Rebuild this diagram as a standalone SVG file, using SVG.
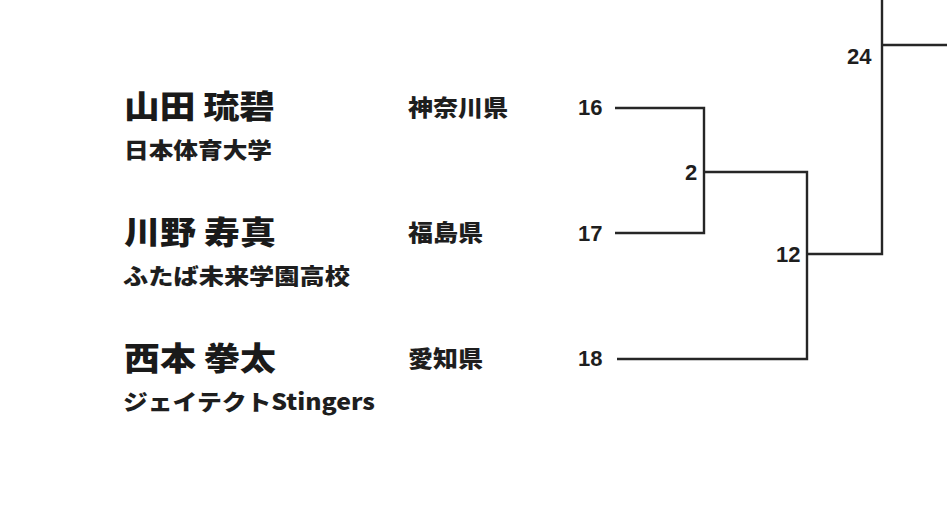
<svg xmlns="http://www.w3.org/2000/svg" width="947" height="513" viewBox="0 0 947 513">
<style>
.name{font-family:"Noto Sans CJK JP","Noto Sans",sans-serif;font-weight:900;font-size:32px;fill:#1a1a1a}
.team{font-family:"Noto Sans CJK JP","Noto Sans",sans-serif;font-weight:900;font-size:22px;fill:#1e1e1e}
.pref{font-family:"Noto Sans CJK JP","Noto Sans",sans-serif;font-weight:900;font-size:23px;fill:#1e1e1e}
.num{font-family:"Liberation Sans",Arial,sans-serif;font-weight:700;font-size:22px;fill:#1e1e1e}
.ln{fill:none;stroke:#262626;stroke-width:2.4}
</style>
<rect width="947" height="513" fill="#ffffff"/>
<g id="p16">
<text class="name" x="124" y="118" textLength="151" lengthAdjust="spacingAndGlyphs">山田 琉碧</text>
<text class="team" x="124" y="158" textLength="148" lengthAdjust="spacingAndGlyphs">日本体育大学</text>
<text class="pref" x="408" y="116" textLength="100" lengthAdjust="spacingAndGlyphs">神奈川県</text>
<text class="num" x="578" y="115">16</text>
</g>
<g id="p17">
<text class="name" x="124" y="244" textLength="152" lengthAdjust="spacingAndGlyphs">川野 寿真</text>
<text class="team" x="123" y="284" textLength="227" lengthAdjust="spacingAndGlyphs">ふたば未来学園高校</text>
<text class="pref" x="408" y="241" textLength="75" lengthAdjust="spacingAndGlyphs">福島県</text>
<text class="num" x="578" y="241">17</text>
</g>
<g id="p18">
<text class="name" x="124" y="370" textLength="152" lengthAdjust="spacingAndGlyphs">西本 拳太</text>
<text class="team" x="123" y="410" textLength="252" lengthAdjust="spacingAndGlyphs">ジェイテクトStingers</text>
<text class="pref" x="408" y="367" textLength="75" lengthAdjust="spacingAndGlyphs">愛知県</text>
<text class="num" x="578" y="366">18</text>
</g>
<g id="m2"><text class="num" x="685" y="180">2</text></g>
<g id="m12"><text class="num" x="776" y="262">12</text></g>
<g id="m24"><text class="num" x="847" y="64">24</text></g>
<g id="connectors">
<path class="ln" d="M615 108 H704 V233 H615"/>
<path class="ln" d="M704 172 H807 V359 H617"/>
<path class="ln" d="M807 254 H882 V0"/>
<path class="ln" d="M882 45 H947"/>
</g>
</svg>
